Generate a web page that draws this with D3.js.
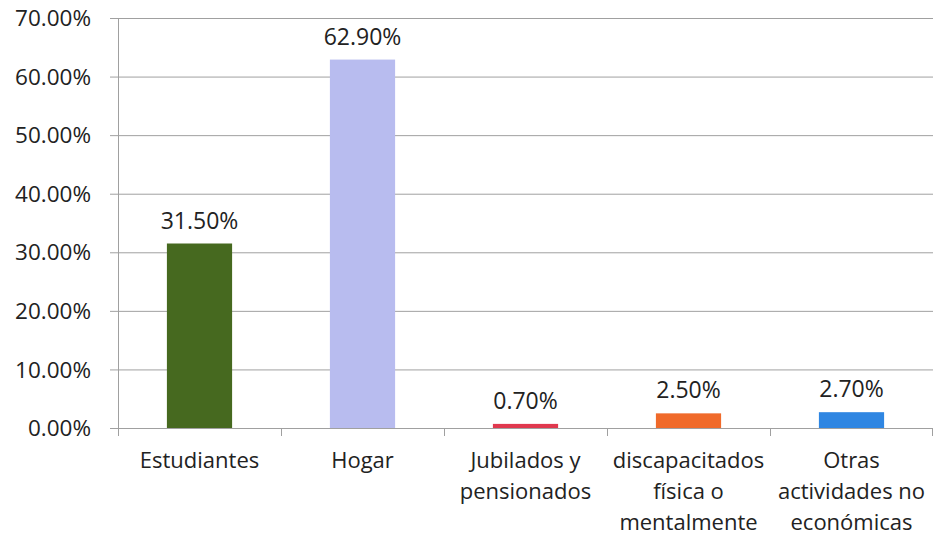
<!DOCTYPE html>
<html>
<head>
<meta charset="utf-8">
<script src="https://cdn.jsdelivr.net/npm/d3@7"></script>
<style>
  body { margin: 0; background: #fff; }
  text { font-family: "Open Sans", sans-serif; fill: #222; }
</style>
</head>
<body>
<script>
// data
var categories = ["Estudiantes", "Hogar", "Jubilados y pensionados", "discapacitados física o mentalmente", "Otras actividades no económicas"];
var catLines = [["Estudiantes"], ["Hogar"], ["Jubilados y", "pensionados"], ["discapacitados", "física o", "mentalmente"], ["Otras", "actividades no", "económicas"]];
var values = [31.5, 62.9, 0.7, 2.5, 2.7];
var colors = ["#46691f", "#b8bcef", "#e0384e", "#f06a2a", "#2f86e2"];
var yTicks = [0, 10, 20, 30, 40, 50, 60, 70];

var W = 933, H = 537;
var margin = {top: 18, right: 0, bottom: 109, left: 118};
var width = W - margin.left - margin.right,
    height = H - margin.top - margin.bottom;

var svg = d3.select("body").append("svg")
    .attr("width", W)
    .attr("height", H)
  .append("g")
    .attr("transform", "translate(" + margin.left + "," + margin.top + ")");

var x = d3.scaleBand().domain(categories).range([0, width]).padding(0);
var y = d3.scaleLinear().domain([0, 70]).range([height, 0]);

// gridlines
svg.selectAll(".grid")
    .data(yTicks)
  .enter().append("line")
    .attr("x1", -8)
    .attr("x2", width)
    .attr("y1", function(d) { return y(d) + 0.5; })
    .attr("y2", function(d) { return y(d) + 0.5; })
    .attr("stroke", "#a0a0a0")
    .attr("stroke-width", 1);

// y axis line
svg.append("line")
    .attr("x1", 0.5).attr("x2", 0.5)
    .attr("y1", 0).attr("y2", height)
    .attr("stroke", "#a0a0a0");

// category tick marks
var bounds = categories.map(function(c) { return x(c); }).concat([width]);
svg.selectAll(".ctick")
    .data(bounds)
  .enter().append("line")
    .attr("x1", function(d) { return Math.min(d, width - 1) + 0.5; })
    .attr("x2", function(d) { return Math.min(d, width - 1) + 0.5; })
    .attr("y1", height)
    .attr("y2", height + 8)
    .attr("stroke", "#a0a0a0");

// y tick labels
svg.selectAll(".ylab")
    .data(yTicks)
  .enter().append("text")
    .attr("x", -27)
    .attr("y", function(d) { return y(d); })
    .attr("dy", "0.36em")
    .attr("text-anchor", "end")
    .style("font-size", "22.5px")
    .text(function(d) { return d3.format(".2f")(d) + "%"; });

// bars
var bw = x.bandwidth() * 0.4;
svg.selectAll(".bar")
    .data(values)
  .enter().append("rect")
    .attr("x", function(d, i) { return x(categories[i]) + x.bandwidth() / 2 - bw / 2; })
    .attr("y", function(d) { return y(d); })
    .attr("width", bw)
    .attr("height", function(d) { return height - y(d); })
    .attr("fill", function(d, i) { return colors[i]; });

// value labels
svg.selectAll(".vlab")
    .data(values)
  .enter().append("text")
    .attr("x", function(d, i) { return x(categories[i]) + x.bandwidth() / 2; })
    .attr("y", function(d) { return y(d) - 15; })
    .attr("text-anchor", "middle")
    .style("font-size", "23px")
    .text(function(d) { return d3.format(".2f")(d) + "%"; });

// category labels
catLines.forEach(function(lines, i) {
  var t = svg.append("text")
      .attr("text-anchor", "middle")
      .style("font-size", "22px");
  lines.forEach(function(l, j) {
    t.append("tspan")
      .attr("x", x(categories[i]) + x.bandwidth() / 2)
      .attr("y", height + 40 + j * 31)
      .text(l);
  });
});
</script>
</body>
</html>
